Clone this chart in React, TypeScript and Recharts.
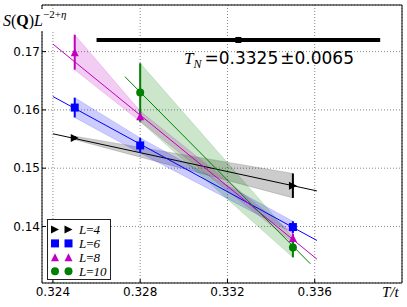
import { ComposedChart, Area, Line, Scatter, ErrorBar, XAxis, YAxis, CartesianGrid, ReferenceArea } from 'recharts';

// axes
const xDomain = [0.3235, 0.34];
const yDomain = [0.1303, 0.178];
const xTicks = [0.324, 0.328, 0.332, 0.336];
const yTicks = [0.14, 0.15, 0.16, 0.17];

// L = 4
const l4X = [0.325, 0.335];
const l4Y = [0.1552, 0.147];
const l4Err = [0.0003, 0.0021];
const l4FitX = [0.324, 0.3361];
const l4FitY = [0.1559, 0.1461];

// L = 6
const l6X = [0.325, 0.328, 0.335];
const l6Y = [0.1604, 0.1539, 0.1399];
const l6Err = [0.0017, 0.0013, 0.001];
const l6FitX = [0.324, 0.3361];
const l6FitY = [0.1623, 0.1376];

// L = 8
const l8X = [0.325, 0.328, 0.335];
const l8Y = [0.1699, 0.1589, 0.138];
const l8Err = [0.003, 0.0009, 0.0008];
const l8FitX = [0.324, 0.3361];
const l8FitY = [0.1713, 0.1344];

// L = 10
const l10X = [0.328, 0.335];
const l10Y = [0.163, 0.1364];
const l10Err = [0.005, 0.0017];
const l10FitX = [0.3273, 0.3358];
const l10FitY = [0.1657, 0.1336];

// T_N estimate
const tnX = 0.3325;
const tnErr = 0.0065;
const tnY = 0.172;

type Kind = 'tri-right' | 'square' | 'tri-up' | 'circle';

const series: { name: string; kind: Kind; color: string; xs: number[]; ys: number[]; errs: number[]; fitX: number[]; fitY: number[] }[] = [
  { name: '4', kind: 'tri-right', color: '#000000', xs: l4X, ys: l4Y, errs: l4Err, fitX: l4FitX, fitY: l4FitY },
  { name: '6', kind: 'square', color: '#0000ff', xs: l6X, ys: l6Y, errs: l6Err, fitX: l6FitX, fitY: l6FitY },
  { name: '8', kind: 'tri-up', color: '#bf00bf', xs: l8X, ys: l8Y, errs: l8Err, fitX: l8FitX, fitY: l8FitY },
  { name: '10', kind: 'circle', color: '#008000', xs: l10X, ys: l10Y, errs: l10Err, fitX: l10FitX, fitY: l10FitY },
];

const points = (s: (typeof series)[number]) =>
  s.xs.map((x, i) => ({ x, y: s.ys[i], err: s.errs[i], band: [s.ys[i] - s.errs[i], s.ys[i] + s.errs[i]] }));

const fit = (s: (typeof series)[number]) => s.fitX.map((x, i) => ({ x, y: s.fitY[i] }));

const Marker = ({ kind, cx, cy, color, r = 4 }: { kind: Kind; cx: number; cy: number; color: string; r?: number }) => {
  if (kind === 'square') return <rect x={cx - r} y={cy - r} width={2 * r} height={2 * r} fill={color} />;
  if (kind === 'circle') return <circle cx={cx} cy={cy} r={r} fill={color} />;
  if (kind === 'tri-up')
    return <polygon points={`${cx},${cy - r} ${cx - r},${cy + r} ${cx + r},${cy + r}`} fill={color} />;
  return <polygon points={`${cx - r},${cy - r} ${cx + r},${cy} ${cx - r},${cy + r}`} fill={color} />;
};

const tickStyle = { fill: '#000', fontSize: 12, fontFamily: 'DejaVu Sans' };
const tickLineStyle = { stroke: '#000', strokeWidth: 1 };

export default function App() {
  return (
    <div style={{ position: 'absolute', left: 0, top: 0, width: 407, height: 307, background: '#fff' }}>
      <ComposedChart width={407} height={307} margin={{ top: 5, right: 5, left: 0, bottom: 0 }}>
        <CartesianGrid stroke="#888" strokeDasharray="1 2" />
        <XAxis
          type="number"
          dataKey="x"
          domain={xDomain}
          ticks={xTicks}
          allowDataOverflow
          tickFormatter={(v) => v.toFixed(3)}
          tick={tickStyle}
          tickLine={tickLineStyle}
          axisLine={false}
          tickSize={-4}
          tickMargin={8}
          height={24}
        />
        <XAxis
          xAxisId="top"
          orientation="top"
          type="number"
          domain={xDomain}
          ticks={xTicks}
          allowDataOverflow
          tick={false}
          tickLine={tickLineStyle}
          axisLine={false}
          tickSize={-4}
          height={0}
        />
        <YAxis
          type="number"
          dataKey="y"
          domain={yDomain}
          ticks={yTicks}
          allowDataOverflow
          tickFormatter={(v) => v.toFixed(2)}
          tick={tickStyle}
          tickLine={tickLineStyle}
          axisLine={false}
          tickSize={-4}
          tickMargin={6}
          width={42}
        />
        <YAxis
          yAxisId="right"
          orientation="right"
          type="number"
          domain={yDomain}
          ticks={yTicks}
          allowDataOverflow
          tick={false}
          tickLine={tickLineStyle}
          axisLine={false}
          tickSize={-4}
          width={0}
        />
        {series.map((s) => (
          <Area
            key={'band' + s.name}
            data={points(s)}
            dataKey="band"
            type="linear"
            fill={s.color}
            fillOpacity={0.2}
            stroke={s.color}
            strokeOpacity={0.15}
            dot={false}
            activeDot={false}
            isAnimationActive={false}
          />
        ))}
        {series.map((s) => (
          <Line
            key={'fit' + s.name}
            data={fit(s)}
            dataKey="y"
            type="linear"
            stroke={s.color}
            strokeWidth={1}
            dot={false}
            activeDot={false}
            isAnimationActive={false}
          />
        ))}
        {series.map((s) => (
          <Scatter
            key={'pts' + s.name}
            data={points(s)}
            dataKey="y"
            fill={s.color}
            isAnimationActive={false}
            shape={(p: any) => <Marker kind={s.kind} cx={p.cx} cy={p.cy} color={s.color} />}
          >
            <ErrorBar dataKey="err" direction="y" width={0} stroke={s.color} strokeWidth={2} isAnimationActive={false} />
          </Scatter>
        ))}
        <Scatter
          data={[{ x: tnX, y: tnY, xerr: tnErr }]}
          dataKey="y"
          fill="#000"
          isAnimationActive={false}
          shape={(p: any) => <rect x={p.cx - 3} y={p.cy - 3} width={6} height={6} fill="#000" />}
        >
          <ErrorBar dataKey="xerr" direction="x" width={0} stroke="#000" strokeWidth={4} isAnimationActive={false} />
        </Scatter>
        <ReferenceArea x1={xDomain[0]} x2={xDomain[1]} y1={yDomain[0]} y2={yDomain[1]} fill="none" stroke="#000" strokeWidth={1} />
      </ComposedChart>
      <svg width={407} height={307} style={{ position: 'absolute', left: 0, top: 0, pointerEvents: 'none' }}>
        <rect x={0} y={9} width={72} height={22} fill="#fff" />
        <text x={3} y={26} fontFamily="Liberation Serif" fontSize={16} fill="#000">
          <tspan fontStyle="italic">S</tspan>(<tspan fontWeight="bold">Q</tspan>)<tspan fontStyle="italic">L</tspan>
          <tspan dy={-8} fontSize={11}>−2+</tspan>
          <tspan fontSize={11} fontStyle="italic">η</tspan>
        </text>
        <text x={184} y={64} fontSize={17} fill="#000">
          <tspan fontFamily="Liberation Serif" fontStyle="italic">T</tspan>
          <tspan fontFamily="Liberation Serif" fontStyle="italic" fontSize={12} dy={4}>N</tspan>
          <tspan fontFamily="DejaVu Sans" dy={-4} dx={3}>=0.3325</tspan>
          <tspan fontFamily="DejaVu Sans" dx={2}>±0.0065</tspan>
        </text>
        <text x={382} y={297} fontFamily="Liberation Serif" fontStyle="italic" fontSize={15} fill="#000">
          T/t
        </text>
        <rect x={47.5} y={219.5} width={63} height={60} fill="#fff" stroke="#222" strokeWidth={1} />
        {series.map((s, i) => {
          const cy = 229.5 + i * 13.9;
          return (
            <g key={'leg' + s.name}>
              <Marker kind={s.kind} cx={55} cy={cy} color={s.color} />
              <Marker kind={s.kind} cx={68.5} cy={cy} color={s.color} />
              <text x={79} y={cy + 4.5} fontFamily="Liberation Serif" fontSize={13} fill="#000">
                <tspan fontStyle="italic">L</tspan>=<tspan fontStyle="italic">{s.name}</tspan>
              </text>
            </g>
          );
        })}
      </svg>
    </div>
  );
}
